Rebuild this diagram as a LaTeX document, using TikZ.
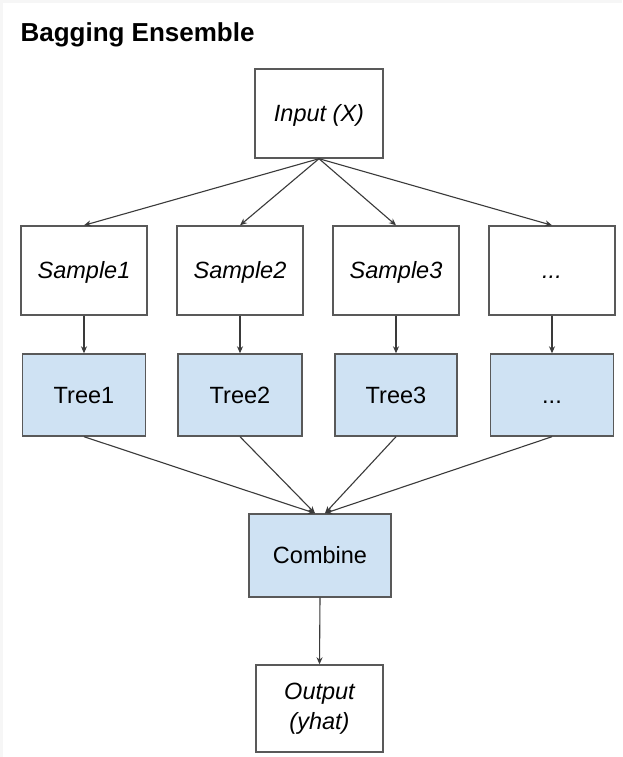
\documentclass[tikz,border=0pt]{standalone}
\usepackage{fontspec}
\setmainfont{Liberation Sans}
\usetikzlibrary{arrows.meta}
\definecolor{edge}{HTML}{595959}
\definecolor{wire}{HTML}{3A3A3A}
\definecolor{treefill}{HTML}{CFE2F3}
\definecolor{frame}{HTML}{F6F6F6}
\begin{document}
\begin{tikzpicture}[x=1pt,y=-1pt,
  box/.style={draw=edge,line width=1.4pt,fill=white,inner sep=0pt,
    minimum width=#1,font=\fontsize{23.5}{30}\selectfont,align=center},
  box/.default=126pt,
  oneline/.style={text height=16pt,text depth=0pt},
  plain/.style={box,font=\fontsize{23.5}{30}\selectfont\itshape},
  model/.style={box,oneline,fill=treefill},
  link/.style={draw=wire,line width=1.1pt,-{Stealth[length=7pt,width=6pt]}}]
  % page and its faint upper and left strips
  \fill[white] (0,0) rectangle (622,757);
  \fill[frame] (0,0) rectangle (622,3);
  \fill[frame] (0,0) rectangle (3,757);
  \useasboundingbox (0,0) rectangle (622,757);

  \node[anchor=base west,font=\fontsize{26}{30}\selectfont\bfseries] (title) at (17,41.5) {Bagging Ensemble};

  % input
  \node[plain,oneline,minimum width=128pt,minimum height=89pt] (in) at (319,113.5) {Input (X)};

  % bootstrap samples
  \node[plain,oneline,minimum height=89pt] (s1) at (84,270.5) {Sample1};
  \node[plain,oneline,minimum height=89pt] (s2) at (240,270.5) {Sample2};
  \node[plain,oneline,minimum height=89pt] (s3) at (396,270.5) {Sample3};
  \node[plain,oneline,minimum height=89pt] (s4) at (552,270.5) {...};

  % trees
  \node[model,minimum width=123pt,minimum height=82pt] (t1) at (84,395) {Tree1};
  \node[model,minimum width=124pt,minimum height=82pt] (t2) at (240,395) {Tree2};
  \node[model,minimum width=122pt,minimum height=82pt] (t3) at (396,395) {Tree3};
  \node[model,minimum width=123pt,minimum height=82pt] (t4) at (552,395) {...};

  % combiner and result
  \node[model,minimum width=142pt,minimum height=83pt] (comb) at (320,555.5) {Combine};
  \node[plain,minimum width=127pt,minimum height=87pt] (out) at (319.5,708.5) {Output\\(yhat)};

  % fan-out to the samples
  \foreach \s in {s1,s2,s3,s4}
    \draw[link] (in.south) -- (\s.north);
  % samples to trees
  \foreach \i in {1,2,3,4}
    \draw[link] (s\i.south) -- (t\i.north);
  % trees into the combiner
  \draw[link] (t1.south) -- ([xshift=-5pt]comb.north);
  \draw[link] (t2.south) -- ([xshift=-5pt]comb.north);
  \draw[link] (t3.south) -- ([xshift=5pt]comb.north);
  \draw[link] (t4.south) -- ([xshift=5pt]comb.north);
  \draw[link] (comb.south) -- (out.north);
\end{tikzpicture}
\end{document}
